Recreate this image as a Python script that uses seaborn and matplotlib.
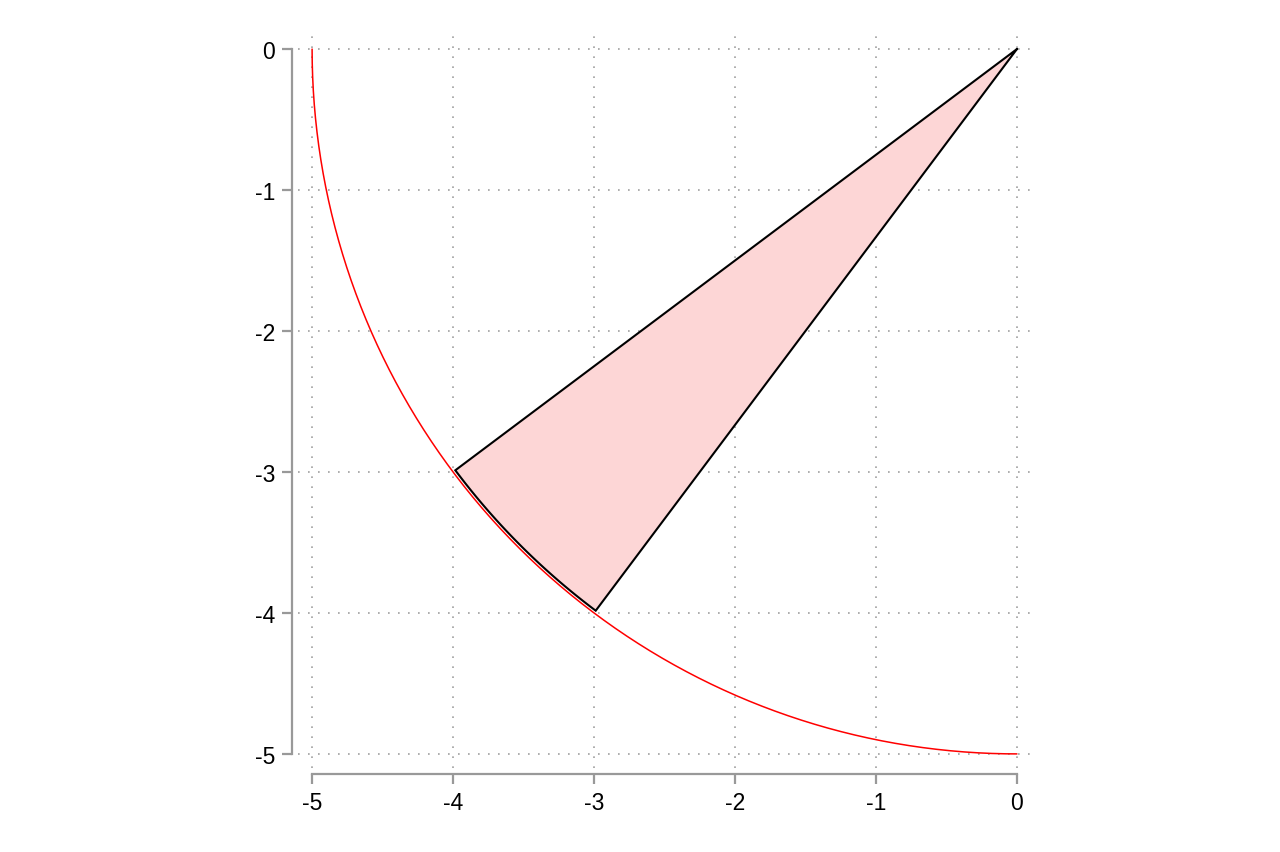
import numpy as np
import pandas as pd
import matplotlib
matplotlib.use("Agg")
import matplotlib.pyplot as plt
import seaborn as sns

# data
radius = 5
circle_theta_deg = [180, 270]          # quarter circle, third quadrant
sector_points = [(-4, -3), (-3, -4)]   # sector edges on the circle
ticks = [-5, -4, -3, -2, -1, 0]
tick_labels = ["-5", "-4", "-3", "-2", "-1", "0"]

sns.set_theme(style="white")
plt.rcParams['font.family'] = ['Liberation Sans Narrow', 'Liberation Sans', 'DejaVu Sans']

fig = plt.figure(figsize=(12.8, 8.53), dpi=100)
ax = fig.add_axes([298/1280, (853-769)/853, 733/1280, 733/853])

# circle
th = np.linspace(np.deg2rad(circle_theta_deg[0]), np.deg2rad(circle_theta_deg[1]), 400)
circ = pd.DataFrame({"x": radius*np.cos(th), "y": radius*np.sin(th)})

# sector
a0 = np.arctan2(sector_points[0][1], sector_points[0][0])
a1 = np.arctan2(sector_points[1][1], sector_points[1][0])
if a0 > 0: a0 -= 2*np.pi
if a1 > 0: a1 -= 2*np.pi
ta = np.linspace(a0, a1, 100)
r_in = radius*0.996
sx = np.concatenate([[0], r_in*np.cos(ta), [0]])
sy = np.concatenate([[0], r_in*np.sin(ta), [0]])

ax.fill(sx, sy, color="#fdd6d6", lw=0, zorder=2)
ax.plot(sx, sy, color="black", lw=1.5, zorder=3, solid_joinstyle="miter")
sns.lineplot(data=circ, x="x", y="y", sort=False, color="red", lw=1.1, ax=ax, zorder=4)

ax.set_xlim(-5.1, 0.1)
ax.set_ylim(-5.1, 0.1)
ax.set_aspect("equal")
ax.set_xticks(ticks)
ax.set_xticklabels(tick_labels)
ax.set_yticks(ticks)
ax.set_yticklabels(tick_labels)
ax.set_xlabel("")
ax.set_ylabel("")
ax.grid(True, color="#a0a0a0", linestyle=(0, (1, 5)), lw=1.2)
ax.set_axisbelow(True)

sns.despine(ax=ax, offset=4, trim=True)
for s in ["left", "bottom"]:
    ax.spines[s].set_color("#999999")
    ax.spines[s].set_linewidth(1.6)
ax.tick_params(axis="both", which="major", length=7.5, width=1.6, color="#999999",
               labelsize=16.5, labelcolor="black", pad=5, direction="out",
               left=True, bottom=True)

fig.savefig("out.png", dpi=100, facecolor="white")
